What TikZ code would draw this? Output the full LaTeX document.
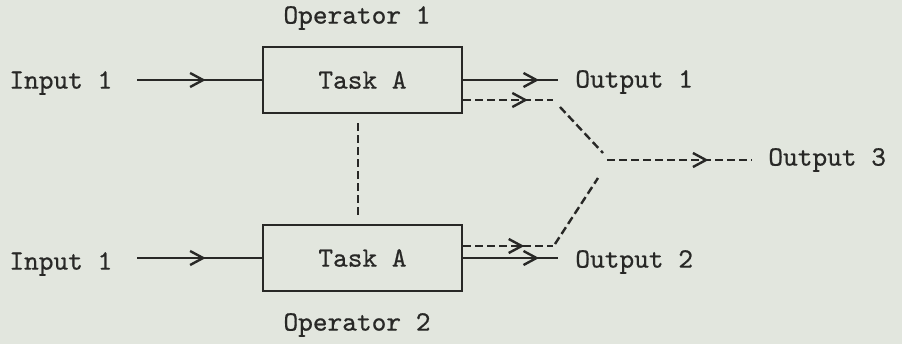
\documentclass[tikz,border=0pt]{standalone}
\usepackage{fontspec}
\newfontfamily\typew{lmmono10-regular}[Extension=.otf, FakeBold=0.6]
\usetikzlibrary{arrows.meta,decorations.markings}
\definecolor{paper}{RGB}{226,230,222}
\definecolor{ink}{RGB}{40,40,38}
\tikzset{
  every node/.style={font=\typew\fontsize{14}{16}\selectfont, text=ink},
  taskbox/.style={draw=ink, line width=1.2pt, minimum width=99.5pt, minimum height=33pt, inner sep=0pt},
  lbl/.style={inner sep=0pt},
  solidline/.style={draw=ink, line width=1.2pt},
  dashline/.style={draw=ink, line width=1.2pt, dash pattern=on 4pt off 2pt},
  midarrow/.style={postaction={decorate}, decoration={markings,
     mark=at position #1 with {\arrow[ink,solid]{Straight Barb[length=6.5pt,width=7pt,line width=1.2pt]}}}}
}
\begin{document}
\begin{tikzpicture}[x=0.5pt,y=-0.5pt]
\fill[paper] (0,0) rectangle (902,344);
\useasboundingbox (0,0) rectangle (902,344);

% boxes
\node[taskbox] (box1) at (362.5,80) {Task A};
\node[taskbox] (box2) at (362.5,258) {Task A};

% labels
\node[lbl] (op1) at (357,18) {Operator 1};
\node[lbl] (op2) at (357,325) {Operator 2};
\node[lbl, anchor=west] (in1) at (9,83) {Input 1};
\node[lbl, anchor=west] (in2) at (9,264) {Input 1};
\node[lbl, anchor=west] (out1) at (575,82) {Output 1};
\node[lbl, anchor=west] (out2) at (575,262) {Output 2};
\node[lbl, anchor=west] (out3) at (768,160) {Output 3};

% free ends
\coordinate (i1s) at (137,80);
\coordinate (i2s) at (137,258);
\coordinate (o1e) at (558,80);
\coordinate (d1e) at (553,100);
\coordinate (g1s) at (560,107);
\coordinate (g1e) at (603,153);
\coordinate (o3s) at (607,160);
\coordinate (o3e) at (752,160);
\coordinate (d2e) at (553,246);
\coordinate (g2s) at (555,244);
\coordinate (g2e) at (598,178);
\coordinate (o2e) at (558,258);
\coordinate (vt) at (358,123);
\coordinate (vb) at (358,215);

% inputs
\draw[solidline, midarrow=0.55] (i1s) -- (box1.west);
\draw[solidline, midarrow=0.55] (i2s) -- (box2.west);

% outputs
\draw[solidline, midarrow=0.8] (box1.east) -- (o1e);
\draw[dashline, midarrow=0.72] ([yshift=-10pt]box1.east) -- (d1e);
\draw[dashline] (g1s) -- (g1e);
\draw[dashline, midarrow=0.7] (o3s) -- (o3e);
\draw[dashline] (g2s) -- (g2e);
\draw[dashline, midarrow=0.68] ([yshift=6pt]box2.east) -- (d2e);
\draw[solidline, midarrow=0.8] (box2.east) -- (o2e);

% operator link
\draw[dashline] (vt) -- (vb);
\end{tikzpicture}
\end{document}
